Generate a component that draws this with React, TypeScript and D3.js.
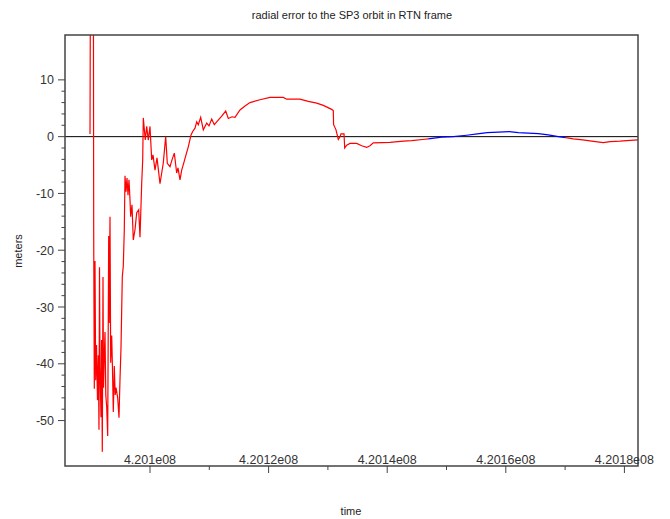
import React from "react";
import * as d3 from "d3";

// time (s) and radial error (m)
const redTimesA = [
  420089882, 420089983, 420090438, 420090506, 420090607, 420090725, 420090843, 420090978,
  420091146, 420091281, 420091399, 420091484, 420091568, 420091737, 420091838, 420091956,
  420092074, 420092158, 420092276, 420092411, 420092546, 420092698, 420092866, 420093035,
  420093119, 420093254, 420093372, 420093541, 420093676, 420093811, 420093979, 420094131,
  420094266, 420094553, 420094772, 420094941, 420095109, 420095328, 420095497, 420095666,
  420095784, 420095952, 420096121, 420096290, 420096458, 420096627, 420096745, 420096964,
  420097183, 420097470, 420097757, 420098094, 420098313, 420098600, 420098769, 420098870,
  420099207, 420099443, 420099713, 420100000, 420100287, 420100505, 420100843, 420101180,
  420101686, 420102243, 420102647, 420102917, 420103372, 420103709, 420104097, 420104502,
  420104721, 420105058, 420105345, 420105733, 420106070, 420106458, 420106913, 420107200,
  420107588, 420107875, 420108144, 420108549, 420108988, 420109561, 420109949, 420110404,
  420110843, 420111247, 420112090, 420112765, 420113204, 420113827, 420114333, 420115176,
  420116019, 420116863, 420118549, 420120235, 420122478, 420123051, 420125294, 420126694,
  420128110, 420129223, 420130640, 420130909, 420130960, 420131365, 420131752, 420132039,
  420132208, 420132714, 420132832, 420133169, 420133726, 420134856, 420135699, 420136542,
  420137098, 420137655, 420140471, 420142714, 420144130, 420146373, 420146930,
];
const redValuesA = [
  0.48, 40, 40, -17.0, -44.4, -21.9, -42.9, -36.7,
  -46.4, -38.5, -51.6, -23.0, -40.4, -49.4, -35.8, -55.5,
  -24.7, -44.2, -39.3, -34.4, -45.5, -47.6, -52.7, -17.5,
  -32.8, -14.1, -39.8, -35.0, -41.1, -48.5, -40.4, -45.5,
  -44.2, -46.0, -49.5, -42.7, -37.2, -24.7, -22.8, -16.4,
  -6.9, -9.7, -7.3, -10.3, -7.6, -11.1, -14.1, -12.0,
  -18.2, -16.4, -13.4, -12.9, -17.7, -8.2, -4.1, 3.3,
  -0.6, 1.8, -0.6, 1.8, -4.1, -3.2, -5.9, -3.75,
  -8.3, -4.6, 0.0, -4.7, -5.3, -4.1, -2.9, -6.4,
  -5.5, -7.6, -5.9, -4.5, -3.2, -1.8, 0.3, 0.9,
  1.5, 2.6, 2.1, 3.4, 1.2, 2.4, 1.9, 3.1,
  2.1, 2.6, 3.6, 4.5, 3.2, 3.5, 3.4, 4.7,
  5.4, 6.0, 6.5, 6.9, 6.9, 6.6, 6.6, 6.2,
  5.9, 5.5, 4.8, 4.6, 2.1, 1.2, -0.5, 0.0,
  0.5, 0.5, -2.0, -1.5, -1.2, -1.2, -1.6, -1.9,
  -1.6, -1.1, -1.0, -0.8, -0.7, -0.46, -0.4,
];
const blueTimes = [
  420146930, 420149190, 420151144, 420153405, 420155192, 420156879, 420160589, 420162107,
  420165479, 420167165, 420168851, 420170099,
];
const blueValues = [-0.4, -0.1, 0.0, 0.25, 0.48, 0.7, 0.88, 0.7, 0.53, 0.3, 0.0, -0.18];
const redTimesB = [
  420170099, 420171381, 420172966, 420174484, 420176440, 420177569, 420179256, 420180386, 420182292,
];
const redValuesB = [-0.18, -0.4, -0.58, -0.8, -1.05, -0.88, -0.8, -0.7, -0.58];

const xTicks = [420100000, 420120000, 420140000, 420160000, 420180000];
const xTickLabels = ["4.201e08", "4.2012e08", "4.2014e08", "4.2016e08", "4.2018e08"];
const yTicks = [-50, -40, -30, -20, -10, 0, 10];
const xDomain = [420085666, 420182292];
const yDomain = [-58.0, 17.9];

const W = 670, H = 519;
const L = 65, R = 638, T = 35, B = 466;
const FONT = "'Liberation Sans', Arial, sans-serif";

export default function App() {
  const x = d3.scaleLinear().domain(xDomain).range([L, R]);
  const y = d3.scaleLinear().domain(yDomain).range([B, T]);
  const mk = (ts: number[], vs: number[]) =>
    d3.line<number>().x((_, i) => x(ts[i])).y((v) => y(v))(vs) || "";

  const xMinor: number[] = [];
  for (let i = 0; i < xTicks.length - 1; i++) xMinor.push((xTicks[i] + xTicks[i + 1]) / 2);
  const yMinor: number[] = [];
  for (let i = 0; i < yTicks.length - 1; i++)
    for (let k = 1; k < 5; k++) yMinor.push(yTicks[i] + (k * (yTicks[i + 1] - yTicks[i])) / 5);

  const axisColor = "#444";
  return (
    <svg width={W} height={H} style={{ position: "absolute", left: 0, top: 0, background: "#fff" }}>
      <defs>
        <clipPath id="plot">
          <rect x={L} y={T} width={R - L} height={B - T} />
        </clipPath>
      </defs>
      <text x={352} y={19} textAnchor="middle" fontFamily={FONT} fontSize={11} fill="#222">
        radial error to the SP3 orbit in RTN frame
      </text>
      <g clipPath="url(#plot)">
        <line x1={L} x2={R} y1={y(0)} y2={y(0)} stroke="#000" strokeWidth={1} />
        <path d={mk(redTimesA, redValuesA)} fill="none" stroke="#ff0000" strokeWidth={1.2} />
        <path d={mk(blueTimes, blueValues)} fill="none" stroke="#0000ff" strokeWidth={1.2} />
        <path d={mk(redTimesB, redValuesB)} fill="none" stroke="#ff0000" strokeWidth={1.2} />
      </g>
      <rect x={L} y={T} width={R - L} height={B - T} fill="none" stroke={axisColor} strokeWidth={1.5} />
      {xTicks.map((t, i) => (
        <g key={"xt" + t}>
          <line x1={x(t)} x2={x(t)} y1={B} y2={B + 7} stroke={axisColor} strokeWidth={1} />
          <text x={x(t)} y={464} textAnchor="middle" fontFamily={FONT} fontSize={12.5} fill="#333">
            {xTickLabels[i]}
          </text>
        </g>
      ))}
      {xMinor.map((t) => (
        <line key={"xm" + t} x1={x(t)} x2={x(t)} y1={B} y2={B + 4} stroke={axisColor} strokeWidth={1} />
      ))}
      {yTicks.map((v) => (
        <g key={"yt" + v}>
          <line x1={L - 7} x2={L} y1={y(v)} y2={y(v)} stroke={axisColor} strokeWidth={1} />
          <text x={54} y={y(v) + 4.5} textAnchor="end" fontFamily={FONT} fontSize={12.5} fill="#333">
            {v}
          </text>
        </g>
      ))}
      {yMinor.map((v) => (
        <line key={"ym" + v} x1={L - 3.5} x2={L} y1={y(v)} y2={y(v)} stroke={axisColor} strokeWidth={1} />
      ))}
      <text x={351} y={515} textAnchor="middle" fontFamily={FONT} fontSize={11} fill="#222">
        time
      </text>
      <text
        transform={`translate(22, 251) rotate(-90)`}
        textAnchor="middle"
        fontFamily={FONT}
        fontSize={11}
        fill="#222"
      >
        meters
      </text>
    </svg>
  );
}
